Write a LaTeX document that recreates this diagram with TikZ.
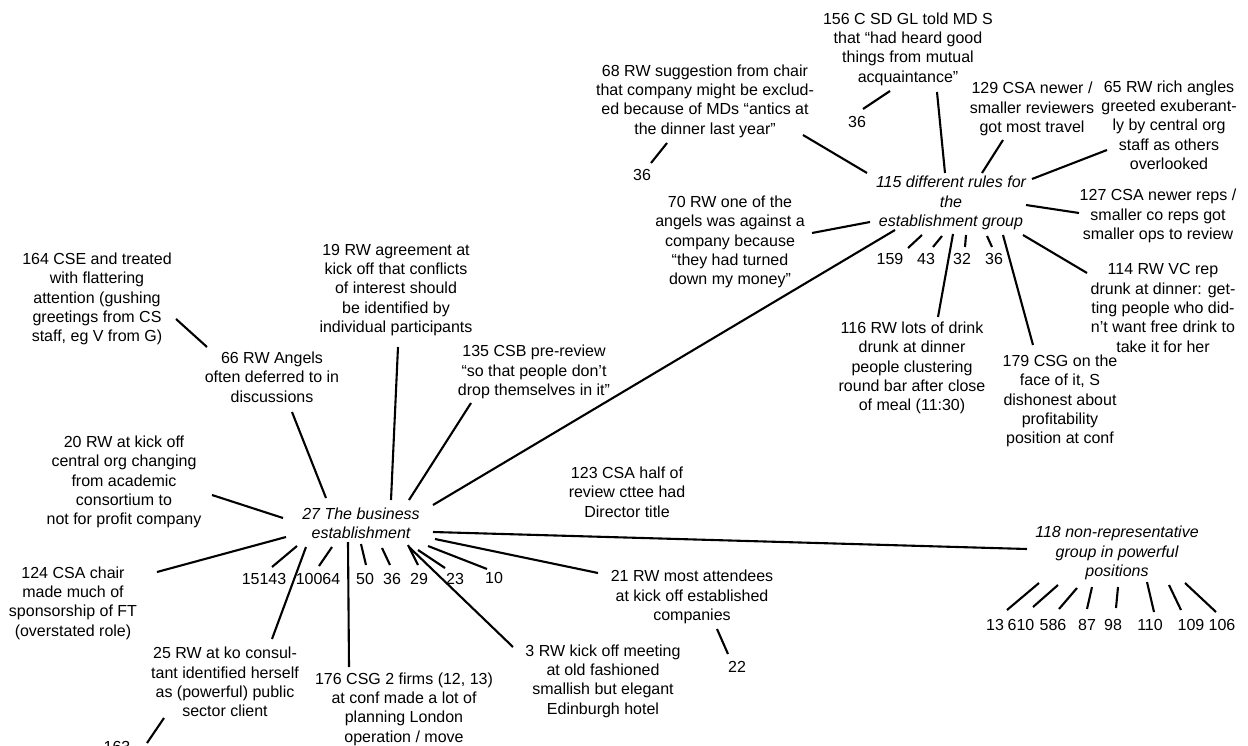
\documentclass[tikz,border=0pt]{standalone}
\usepackage{fontspec}
\setmainfont{Liberation Sans}
\usepackage{tikz}
\usetikzlibrary{positioning}

\begin{document}
\begin{tikzpicture}[-, x=1pt, y=-1pt, line width=2.1pt,
                    every node/.style={font=\fontsize{16}{19.3}\selectfont}]
  \tikzstyle{note}=[align=center, inner sep=0pt]
  \tikzstyle{topic}=[note, font=\fontsize{16}{19.3}\selectfont\itshape]
  \tikzstyle{num}=[inner sep=0pt]
  \useasboundingbox (0,0) rectangle (1248,746);

  % group 115
  \node[topic] (n115) at (951,203) {115 different rules for\\the\\establishment group};
  \node[note] (n156) at (908,49) {156 C SD GL told MD S\\that “had heard good\\things from mutual\\acquaintance”};
  \node[num] (n36a) at (857,122) {36};
  \node[note] (n68) at (705,101) {68 RW suggestion from chair\\that company might be exclud-\\ed because of MDs “antics at\\the dinner last year”};
  \node[num] (n36b) at (642,175) {36};
  \node[note] (n129) at (1032,109) {129 CSA newer /\\smaller reviewers\\got most travel};
  \node[note] (n65) at (1169,125) {65 RW rich angles\\greeted exuberant-\\ly by central org\\staff as others\\overlooked};
  \node[note] (n127) at (1158,216) {127 CSA newer reps /\\smaller co reps got\\smaller ops to review};
  \node[note] (n114) at (1163,308) {114 RW VC rep\\drunk at dinner: get-\\ting people who did-\\n’t want free drink to\\take it for her};
  \node[note] (n179) at (1060,401) {179 CSG on the\\face of it, S\\dishonest about\\profitability\\position at conf};
  \node[note] (n116) at (912,368) {116 RW lots of drink\\drunk at dinner\\people clustering\\round bar after close\\of meal (11:30)};
  \node[note] (n70) at (730,242) {70 RW one of the\\angels was against a\\company because\\“they had turned\\down my money”};
  \node[num] (n159) at (890,259) {159};
  \node[num] (n43) at (926,259) {43};
  \node[num] (n32) at (962,259) {32};
  \node[num] (n36c) at (994,259) {36};

  \draw ([shift={(6,-13)}]n36a.center) -- ([shift={(-18,42)}]n156.center);
  \draw ([shift={(29,43)}]n156.center) -- ([shift={(-6,-30)}]n115.center);
  \draw ([shift={(9,-12)}]n36b.center) -- ([shift={(-38,42)}]n68.center);
  \draw ([shift={(98,34)}]n68.center) -- ([shift={(-84,-30)}]n115.center);
  \draw ([shift={(-29,31)}]n129.center) -- ([shift={(31,-30)}]n115.center);
  \draw ([shift={(-62,25)}]n65.center) -- ([shift={(81,-24)}]n115.center);
  \draw ([shift={(75,2)}]n115.center) -- ([shift={(-79,-3)}]n127.center);
  \draw ([shift={(72,32)}]n115.center) -- ([shift={(-76,-35)}]n114.center);
  \draw ([shift={(52,32)}]n115.center) -- ([shift={(-27,-56)}]n179.center);
  \draw ([shift={(2,31)}]n115.center) -- ([shift={(26,-51)}]n116.center);
  \draw ([shift={(82,-9)}]n70.center) -- ([shift={(-81,19)}]n115.center);
  \draw ([shift={(18,-11)}]n159.center) -- ([shift={(-29,32)}]n115.center);
  \draw ([shift={(7,-12)}]n43.center) -- ([shift={(-9,33)}]n115.center);
  \draw ([shift={(3,-12)}]n32.center) -- ([shift={(15,32)}]n115.center);
  \draw ([shift={(-2,-12)}]n36c.center) -- ([shift={(36,33)}]n115.center);

  % group 27
  \node[topic] (n27) at (361,523) {27 The business\\establishment};
  \node[note] (n164) at (97,299) {164 CSE and treated\\with flattering\\attention (gushing\\greetings from CS\\staff, eg V from G)};
  \node[note] (n66) at (272,377) {66 RW Angels\\often deferred to in\\discussions};
  \node[note] (n19) at (396,290) {19 RW agreement at\\kick off that conflicts\\of interest should\\be identified by\\individual participants};
  \node[note] (n135) at (534,372) {135 CSB pre-review\\“so that people don’t\\drop themselves in it”};
  \node[note] (n20) at (124,482) {20 RW at kick off\\central org changing\\from academic\\consortium to\\not for profit company};
  \node[note] (n124) at (73,603) {124 CSA chair\\made much of\\sponsorship of FT\\(overstated role)};
  \node[note] (n25) at (225,682) {25 RW at ko consul-\\tant identified herself\\as (powerful) public\\sector client};
  \node[num] (n163) at (117,747) {163};
  \node[note] (n176) at (404,709) {176 CSG 2 firms (12, 13)\\at conf made a lot of\\planning London\\operation / move};
  \node[note] (n3) at (603,681) {3 RW kick off meeting\\at old fashioned\\smallish but elegant\\Edinburgh hotel};
  \node[note] (n21) at (692,597) {21 RW most attendees\\at kick off established\\companies};
  \node[num] (n22) at (737,667) {22};
  \node[note] (n123) at (627,492) {123 CSA half of\\review cttee had\\Director title};
  \node[num] (n15143) at (264,579) {15143};
  \node[num] (n10064) at (318,579) {10064};
  \node[num] (n50) at (365,579) {50};
  \node[num] (n36d) at (392,579) {36};
  \node[num] (n29) at (419,579) {29};
  \node[num] (n23) at (455,579) {23};
  \node[num] (n10) at (494,578) {10};

  \draw ([shift={(-56,27)}]n115.center) -- ([shift={(72,-18)}]n27.center);
  \draw ([shift={(79,20)}]n164.center) -- ([shift={(-65,-30)}]n66.center);
  \draw ([shift={(20,35)}]n66.center) -- ([shift={(-35,-25)}]n27.center);
  \draw ([shift={(2,57)}]n19.center) -- ([shift={(30,-23)}]n27.center);
  \draw ([shift={(-63,31)}]n135.center) -- ([shift={(48,-23)}]n27.center);
  \draw ([shift={(88,13)}]n20.center) -- ([shift={(-78,-5)}]n27.center);
  \draw ([shift={(84,-31)}]n124.center) -- ([shift={(-75,14)}]n27.center);
  \draw ([shift={(8,-12)}]n15143.center) -- ([shift={(-64,23)}]n27.center);
  \draw ([shift={(1,-13)}]n10064.center) -- ([shift={(-29,24)}]n27.center);
  \draw ([shift={(1,-14)}]n50.center) -- ([shift={(0,21)}]n27.center);
  \draw ([shift={(-2,-14)}]n36d.center) -- ([shift={(21,25)}]n27.center);
  \draw ([shift={(-1,-14)}]n29.center) -- ([shift={(47,22)}]n27.center);
  \draw ([shift={(-10,-11)}]n23.center) -- ([shift={(57,27)}]n27.center);
  \draw ([shift={(-7,-9)}]n10.center) -- ([shift={(67,23)}]n27.center);
  \draw ([shift={(47,-43)}]n25.center) -- ([shift={(-55,24)}]n27.center);
  \draw ([shift={(30,-4)}]n163.center) -- ([shift={(-61,36)}]n25.center);
  \draw ([shift={(-55,-42)}]n176.center) -- ([shift={(-13,19)}]n27.center);
  \draw ([shift={(-90,-34)}]n3.center) -- ([shift={(48,24)}]n27.center);
  \draw ([shift={(-94,-24)}]n21.center) -- ([shift={(74,16)}]n27.center);
  \draw ([shift={(-9,-13)}]n22.center) -- ([shift={(25,32)}]n21.center);

  % group 118
  \node[topic] (n118) at (1117,553) {118 non-representative\\group in powerful\\positions};
  \node[num] (n13) at (995,625) {13};
  \node[num] (n610) at (1021,625) {610};
  \node[num] (n586) at (1053,625) {586};
  \node[num] (n87) at (1087,625) {87};
  \node[num] (n98) at (1113,625) {98};
  \node[num] (n110) at (1150,625) {110};
  \node[num] (n109) at (1191,625) {109};
  \node[num] (n106) at (1222,625) {106};

  \draw ([shift={(-90,-4)}]n118.center) -- ([shift={(72,9)}]n27.center);
  \draw ([shift={(12,-15)}]n13.center) -- ([shift={(-78,30)}]n118.center);
  \draw ([shift={(12,-18)}]n610.center) -- ([shift={(-59,32)}]n118.center);
  \draw ([shift={(6,-16)}]n586.center) -- ([shift={(-40,35)}]n118.center);
  \draw ([shift={(0,-16)}]n87.center) -- ([shift={(-25,34)}]n118.center);
  \draw ([shift={(3,-17)}]n98.center) -- ([shift={(1,34)}]n118.center);
  \draw ([shift={(4,-13)}]n110.center) -- ([shift={(30,29)}]n118.center);
  \draw ([shift={(-10,-15)}]n109.center) -- ([shift={(52,32)}]n118.center);
  \draw ([shift={(-6,-13)}]n106.center) -- ([shift={(68,30)}]n118.center);
\end{tikzpicture}
\end{document}
